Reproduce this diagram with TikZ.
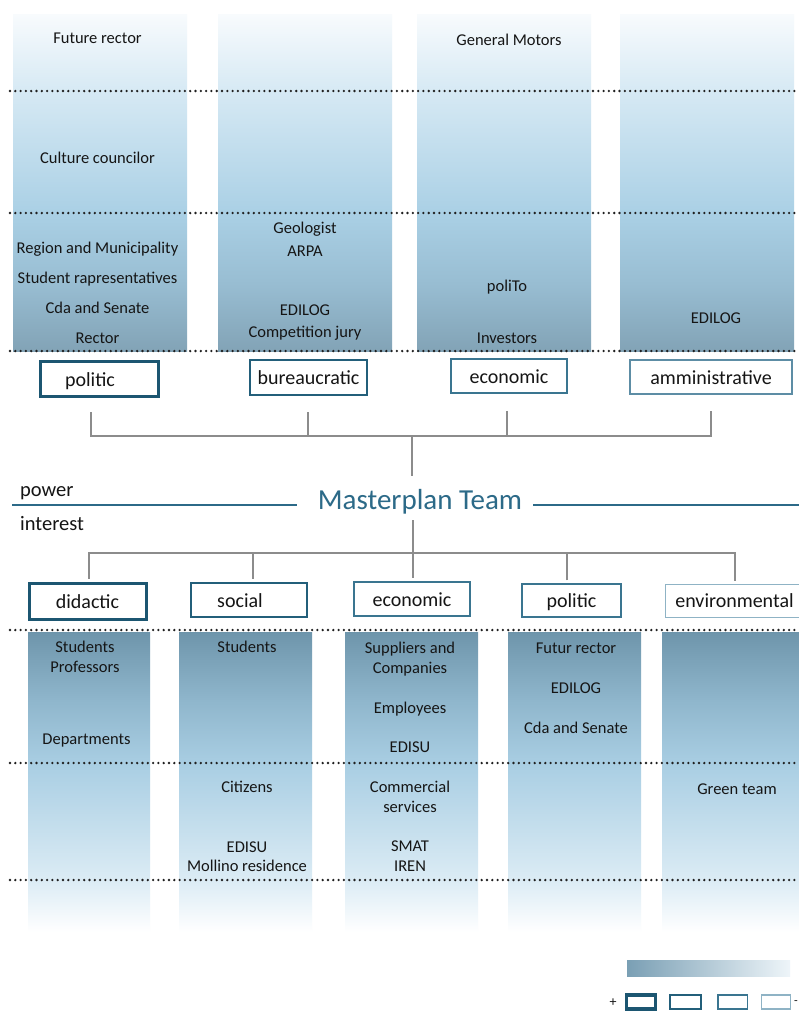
\documentclass[tikz,border=0pt]{standalone}
\usepackage{fontspec}
\setmainfont{Carlito}
\usetikzlibrary{calc}

\definecolor{inkdark}{HTML}{151515}
\definecolor{tealA}{HTML}{1C5671}
\definecolor{tealB}{HTML}{235F7A}
\definecolor{tealC}{HTML}{3A7590}
\definecolor{tealD}{HTML}{5D8DA5}
\definecolor{tealE}{HTML}{8FB3C5}
\definecolor{titleblue}{HTML}{2C6A88}
\definecolor{connector}{HTML}{8C8C8C}
\definecolor{dotcol}{HTML}{1F1F1F}
% column shading colours, upper block (dark at the bottom)
\definecolor{uA}{HTML}{82A3B6}
\definecolor{uB}{HTML}{98BDD2}
\definecolor{uC}{HTML}{AAD0E5}
\definecolor{uD}{HTML}{D6E9F4}
\definecolor{uE}{HTML}{F8FBFD}
% column shading colours, lower block (dark at the top)
\definecolor{lA}{HTML}{FFFFFF}
\definecolor{lB}{HTML}{DCECF5}
\definecolor{lC}{HTML}{A9CEE3}
\definecolor{lD}{HTML}{8FB6CC}
\definecolor{lE}{HTML}{6E95AB}
\definecolor{legL}{HTML}{7A9FB4}
\definecolor{legR}{HTML}{EEF5F9}

\pgfdeclareverticalshading{upcol}{100bp}{color(0bp)=(uA); color(25bp)=(uA); color(35bp)=(uB); color(45.5bp)=(uC); color(63.5bp)=(uD); color(75bp)=(uE); color(100bp)=(uE)}
\pgfdeclareverticalshading{lowcol}{100bp}{color(0bp)=(lA); color(25bp)=(lA); color(33.4bp)=(lB); color(53bp)=(lC); color(63.6bp)=(lD); color(75bp)=(lE); color(100bp)=(lE)}

\tikzset{
  lbl/.style={font=\fontsize{16.5}{19}\selectfont, text=inkdark, anchor=base, inner sep=0pt},
  catbox/.style={draw, fill=white, inner sep=0pt, minimum height=35pt,
    text height=17pt, text depth=3pt, font=\fontsize{20}{23}\selectfont, text=inkdark},
  lvlA/.style={catbox, draw=tealA, line width=3pt},
  lvlB/.style={catbox, draw=tealB, line width=2.4pt},
  lvlC/.style={catbox, draw=tealC, line width=1.5pt},
  lvlD/.style={catbox, draw=tealD, line width=1.1pt},
  lvlE/.style={catbox, draw=tealE, line width=1pt},
  dotrow/.style={draw=dotcol, line width=2.6pt, line cap=round, dash pattern=on 0pt off 5.3pt},
  conn/.style={draw=connector, line width=1.3pt},
  titleline/.style={draw=titleblue, line width=1.3pt},
  axislbl/.style={inner sep=0pt, font=\fontsize{20.5}{23}\selectfont, text=inkdark, anchor=base west},
  keysign/.style={inner sep=0pt, font=\fontsize{14}{16}\selectfont, text=inkdark},
  upshade/.style={shading=upcol},
  lowshade/.style={shading=lowcol},
}

\begin{document}
\begin{tikzpicture}[x=1pt, y=-1pt]
\clip (0,0) rectangle (799,1012);
\fill[white] (0,0) rectangle (799,1012);

% ---------- power columns ----------
\shade[upshade] (13,14) rectangle (187,351);
\shade[upshade] (218,14) rectangle (392,351);
\shade[upshade] (417,14) rectangle (591,351);
\shade[upshade] (620,14) rectangle (794,351);

\foreach \y in {91,213,351} \draw[dotrow] (10,\y) -- (799,\y);

\node[lbl] (p1a) at (97.5,43) {Future rector};
\node[lbl] (p1b) at (97.5,163) {Culture councilor};
\node[lbl] (p1c) at (97.5,253) {Region and Municipality};
\node[lbl] (p1d) at (97.5,283) {Student rapresentatives};
\node[lbl] (p1e) at (97.5,313) {Cda and Senate};
\node[lbl] (p1f) at (97.5,343) {Rector};

\node[lbl] (p2a) at (305,233) {Geologist};
\node[lbl] (p2b) at (305,256) {ARPA};
\node[lbl] (p2c) at (305,315) {EDILOG};
\node[lbl] (p2d) at (305,337) {Competition jury};

\node[lbl] (p3a) at (509,45) {General Motors};
\node[lbl] (p3b) at (507,291) {poliTo};
\node[lbl] (p3c) at (507,343) {Investors};

\node[lbl] (p4a) at (716,323) {EDILOG};

% ---------- power categories ----------
\node[lvlA, minimum width=118pt] (pol) at (99,379) {politic\hspace*{18pt}};
\node[lvlB, minimum width=117pt] (bur) at (308.5,377.5) {bureaucratic};
\node[lvlC, minimum width=116pt, minimum height=34pt] (eco) at (509,376) {economic};
\node[lvlD, minimum width=162pt, minimum height=34pt] (amm) at (711,377) {amministrative};

\coordinate (busL) at (91,436);
\coordinate (busR) at (711,436);
\coordinate (hubT) at (412,436);
\node[inner sep=0pt, font=\fontsize{29}{32}\selectfont, text=titleblue, anchor=base] (team) at (420,509) {Masterplan Team};
\coordinate (teamT) at (412,476);
\coordinate (teamB) at (413,520);
\coordinate (hubB) at (413,553);

\draw[conn] ([shift={(-8pt,-14pt)}]pol.south) |- (busL) -- (busR) -- ([yshift=-16pt]amm.south);
\draw[conn] ([shift={(-0.5pt,-16pt)}]bur.south) -- ([xshift=-0.5pt]bur.south |- busL);
\draw[conn] ([shift={(-2pt,-17pt)}]eco.south) -- ([xshift=-2pt]eco.south |- busL);
\draw[conn] (hubT) -- (teamT);

% ---------- title band ----------
\draw[titleline] (12,505) -- (297,505);
\draw[titleline] (533,505) -- (799,505);
\node[axislbl] (pw) at (20,496) {power};
\node[axislbl] (it) at (20,530) {interest};

% ---------- interest categories ----------
\node[lvlA, minimum width=117pt, minimum height=36pt] (did) at (87.5,601) {didactic};
\node[lvlB, minimum width=116pt, minimum height=34pt] (soc) at (249,600) {social\hspace*{18pt}};
\node[lvlC, minimum width=116pt, minimum height=34pt] (ieco) at (412,599) {economic};
\node[lvlC, minimum width=99pt, minimum height=33pt] (ipol) at (571.5,600.5) {politic};
\node[lvlE, minimum width=150pt, minimum height=33pt, anchor=west] (env) at (665,600.5) {environmental\hspace*{12pt}};

\coordinate (ibusL) at (89,553);
\coordinate (ibusR) at (735,553);
\draw[conn] (teamB) -- (hubB);
\draw[conn] (did.north -| ibusL) ++(0,-3) -- (ibusL) -- (ibusR) -- ($(env.north -| ibusR)+(0,-3)$);
\draw[conn] ($(soc.north)+(4,-3)$) -- ($(soc.north |- ibusL)+(4,0)$);
\draw[conn] ($(ipol.north)+(-4.5,-3)$) -- ($(ipol.north |- ibusL)+(-4.5,0)$);
\draw[conn] (hubB) -- ($(ieco.north)+(1,-3)$);

% ---------- interest columns ----------
\shade[lowshade] (28,632) rectangle (150,932);
\shade[lowshade] (179,632) rectangle (312,932);
\shade[lowshade] (345,632) rectangle (478,932);
\shade[lowshade] (508,632) rectangle (641,932);
\shade[lowshade] (662,632) rectangle (805,932);

\foreach \y in {630,763,880} \draw[dotrow] (10,\y) -- (799,\y);

\node[lbl] (i1a) at (85,652) {Students};
\node[lbl] (i1b) at (85,672) {Professors};
\node[lbl] (i1c) at (86.5,744) {Departments};

\node[lbl] (i2a) at (247,652) {Students};
\node[lbl] (i2b) at (247,792) {Citizens};
\node[lbl] (i2c) at (247,852) {EDISU};
\node[lbl] (i2d) at (247,871) {Mollino residence};

\node[lbl] (i3a) at (410,653) {Suppliers and};
\node[lbl] (i3b) at (410,673) {Companies};
\node[lbl] (i3c) at (410,713) {Employees};
\node[lbl] (i3d) at (410,752) {EDISU};
\node[lbl] (i3e) at (410,792) {Commercial};
\node[lbl] (i3f) at (410,812) {services};
\node[lbl] (i3g) at (410,851) {SMAT};
\node[lbl] (i3h) at (410,871) {IREN};

\node[lbl] (i4a) at (576,653) {Futur rector};
\node[lbl] (i4b) at (576,693) {EDILOG};
\node[lbl] (i4c) at (576,733) {Cda and Senate};

\node[lbl] (i5a) at (737,794) {Green team};

% ---------- key ----------
\shade[left color=legL, right color=legR] (627,960) rectangle (790,976);
\node[keysign] (kplus) at (613,1003) {+};
\draw[tealA, line width=3.2pt] (626.5,995) rectangle (655.5,1009);
\draw[tealB, line width=2.4pt] (670,995) rectangle (701,1009);
\draw[tealC, line width=1.8pt] (718,995) rectangle (747.5,1009);
\draw[tealE, line width=1.2pt] (761.5,995) rectangle (790.5,1009);
\node[keysign, font=\fontsize{12}{14}\selectfont] (kminus) at (796,1003) {-};
\end{tikzpicture}
\end{document}
